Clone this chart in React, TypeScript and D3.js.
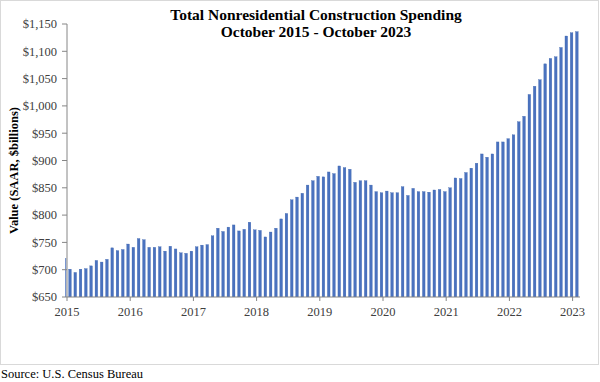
import React from "react";
import * as d3 from "d3";

const titleLines = ["Total Nonresidential Construction Spending", "October 2015 - October 2023"];
const yAxisTitle = "Value (SAAR, $billions)";
const sourceText = "Source:  U.S. Census Bureau";

const values: number[] = [
  721, 701, 695, 701, 702, 707, 717, 714, 719, 740, 735, 737,
  747, 741, 757, 755, 741, 741, 742, 734, 743, 738, 731, 730,
  734, 742, 745, 746, 762, 776, 770, 778, 782, 771, 774, 787,
  773, 772, 760, 769, 776, 793, 803, 828, 833, 840, 855, 863,
  871, 870, 879, 876, 890, 887, 884, 860, 863, 863, 855, 843,
  841, 844, 841, 841, 852, 836, 849, 843, 843, 842, 846, 847,
  843, 850, 868, 867, 878, 886, 895, 912, 906, 912, 934, 934,
  940, 947, 971, 981, 1021, 1036, 1048, 1077, 1087, 1090, 1107, 1128,
  1134, 1136,
];

const yearTicks = [2015, 2016, 2017, 2018, 2019, 2020, 2021, 2022, 2023];
const yTicks = [650, 700, 750, 800, 850, 900, 950, 1000, 1050, 1100, 1150];

export default function App() {
  const W = 600;
  const H = 382;
  const plotLeft = 67;
  const plotBottom = 297;
  const plotTop = 24;
  const plotRight = 580;

  const ids = values.map((_, i) => String(i));
  const x = d3
    .scaleBand<string>()
    .domain(ids)
    .range([62.06, 62.06 + values.length * 5.28])
    .paddingInner(0.5)
    .paddingOuter(0.25);

  const y = d3.scaleLinear().domain([650, 1150]).range([plotBottom, plotTop]);
  const xYear = d3.scaleLinear().domain([2015, 2023]).range([plotLeft, 572.6]);
  const fmt = d3.format(",");

  const serif = "'Liberation Serif', 'Times New Roman', serif";

  return (
    <svg
      width={W}
      height={H}
      style={{ position: "absolute", left: 0, top: 0, background: "#fff" }}
      fontFamily={serif}
    >
      <defs>
        <clipPath id="plotClip">
          <rect x={65.3} y={0} width={plotRight - 65.3 + 5} height={plotBottom} />
        </clipPath>
      </defs>
      <rect x={0.5} y={0.5} width={598} height={364} fill="#fff" stroke="#d9d9d9" strokeWidth={1} />

      {/* title */}
      <text x={316} y={20} textAnchor="middle" fontSize={15.5} fontWeight="bold" fill="#000">
        {titleLines[0]}
      </text>
      <text x={316} y={37} textAnchor="middle" fontSize={15.5} fontWeight="bold" fill="#000">
        {titleLines[1]}
      </text>

      {/* bars */}
      <g clipPath="url(#plotClip)">
        {values.map((v, i) => (
          <rect
            key={i}
            x={x(String(i))!}
            y={y(v)}
            width={x.bandwidth()}
            height={plotBottom - y(v)}
            fill="#4a72bf"
            stroke="#3a62ab"
            strokeWidth={0.3}
          />
        ))}
      </g>

      {/* y axis */}
      <line x1={plotLeft} x2={plotLeft} y1={plotTop} y2={plotBottom} stroke="#868686" strokeWidth={1} />
      {yTicks.map((t) => (
        <g key={t}>
          <line x1={plotLeft - 5} x2={plotLeft} y1={y(t)} y2={y(t)} stroke="#868686" strokeWidth={1} />
          <text x={57} y={y(t)} dy="0.35em" textAnchor="end" fontSize={12.5} fill="#404040">
            {"$" + fmt(t)}
          </text>
        </g>
      ))}

      {/* x axis */}
      <line x1={plotLeft} x2={plotRight} y1={plotBottom} y2={plotBottom} stroke="#868686" strokeWidth={1} />
      {yearTicks.map((yr) => (
        <g key={yr}>
          <line x1={xYear(yr)} x2={xYear(yr)} y1={plotBottom} y2={plotBottom + 4} stroke="#868686" strokeWidth={1} />
          <text x={xYear(yr)} y={316} textAnchor="middle" fontSize={12.5} fill="#404040">
            {yr}
          </text>
        </g>
      ))}

      {/* y axis title */}
      <text
        transform={`translate(18,${(plotTop + plotBottom) / 2 + 10}) rotate(-90)`}
        textAnchor="middle"
        fontSize={12.5}
        fontWeight="bold"
        fill="#000"
      >
        {yAxisTitle}
      </text>

      {/* source */}
      <text x={1} y={378} fontSize={12.5} fill="#000">
        {sourceText}
      </text>
    </svg>
  );
}
